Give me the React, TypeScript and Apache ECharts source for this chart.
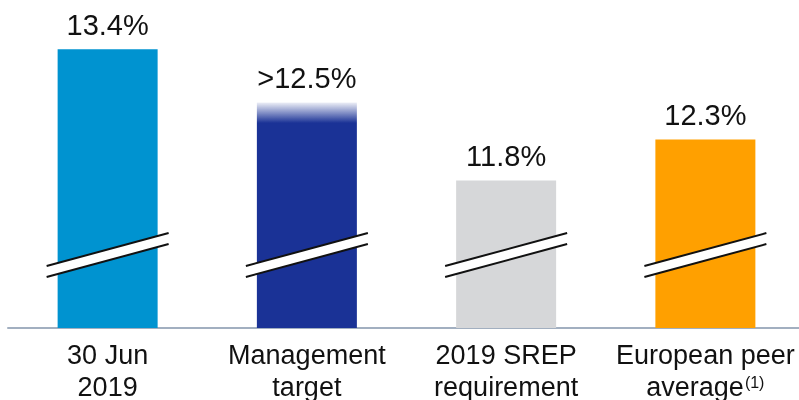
import React, { useEffect, useRef } from "react";
import * as echarts from "echarts";

const categories = [
  "30 Jun\n2019",
  "Management\ntarget",
  "2019 SREP\nrequirement",
  "European peer\naverage{sup|(1)}",
];
const values = [13.4, 12.5, 11.8, 12.3];
const fadeValues = [0, 0.25, 0, 0];
const valueLabels = ["13.4%", ">12.5%", "11.8%", "12.3%"];
const barColors = ["#0093d0", "#1a3296", "#d6d7d9", "#ffa000"];
const breakValue = 10.89;

const FONT = "'Liberation Sans', Arial, sans-serif";

export default function App() {
  const ref = useRef<HTMLDivElement>(null);
  useEffect(() => {
    if (!ref.current) return;
    const chart = echarts.init(ref.current, undefined, { renderer: "svg" });
    const valueLabel = {
      show: true,
      position: "top",
      distance: 10,
      fontSize: 29,
      fontFamily: FONT,
      color: "#111111",
    };
    chart.setOption({
      animation: false,
      grid: {
        left: 8,
        top: 0,
        width: 797,
        bottom: 72,
        containLabel: false,
        outerBoundsMode: "none",
      },
      xAxis: {
        type: "category",
        data: categories,
        axisLine: { lineStyle: { color: "#a2afc0", width: 2 } },
        axisTick: { show: false },
        axisLabel: {
          interval: 0,
          margin: 11,
          fontSize: 27,
          lineHeight: 32,
          fontFamily: FONT,
          color: "#111111",
          rich: {
            sup: {
              fontSize: 16,
              fontFamily: FONT,
              color: "#111111",
              verticalAlign: "middle",
              lineHeight: 16,
              padding: [0, 0, 10, 1],
            },
          },
        },
      },
      yAxis: {
        type: "value",
        min: 10,
        max: 14,
        show: false,
        splitLine: { show: false },
      },
      series: [
        {
          type: "bar",
          stack: "s",
          barWidth: 100,
          data: values.map((v, i) => ({
            value: v,
            itemStyle: { color: barColors[i] },
            label:
              i === 1
                ? { show: false }
                : { ...valueLabel, formatter: valueLabels[i] },
          })),
        },
        {
          type: "bar",
          stack: "s",
          barWidth: 100,
          data: fadeValues.map((v, i) =>
            v > 0
              ? {
                  value: v,
                  itemStyle: {
                    color: new echarts.graphic.LinearGradient(0, 0, 0, 1, [
                      { offset: 0, color: "rgba(26,50,150,0.08)" },
                      { offset: 1, color: "rgba(26,50,150,1)" },
                    ]),
                  },
                  label: { ...valueLabel, formatter: valueLabels[i] },
                }
              : "-"
          ),
        },
        {
          type: "custom",
          z: 10,
          data: values.map((_, i) => [i, breakValue]),
          renderItem: (params: any, api: any) => {
            const p = api.coord([api.value(0), api.value(1)]);
            const cx = p[0];
            const cy = p[1];
            const half = 61;
            const rise = 16.5;
            const gap = 11;
            const x1 = cx - half;
            const x2 = cx + half;
            const yTopL = cy + rise - gap / 2;
            const yTopR = cy - rise - gap / 2;
            const yBotL = cy + rise + gap / 2;
            const yBotR = cy - rise + gap / 2;
            return {
              type: "group",
              children: [
                {
                  type: "polygon",
                  shape: {
                    points: [
                      [x1, yTopL],
                      [x2, yTopR],
                      [x2, yBotR],
                      [x1, yBotL],
                    ],
                  },
                  style: { fill: "#ffffff" },
                },
                {
                  type: "line",
                  shape: { x1, y1: yTopL, x2, y2: yTopR },
                  style: { stroke: "#111111", lineWidth: 2 },
                },
                {
                  type: "line",
                  shape: { x1, y1: yBotL, x2, y2: yBotR },
                  style: { stroke: "#111111", lineWidth: 2 },
                },
              ],
            };
          },
        },
      ],
    });
    return () => chart.dispose();
  }, []);
  return (
    <div
      ref={ref}
      style={{ position: "fixed", left: 0, top: 0, width: 799, height: 400 }}
    />
  );
}
